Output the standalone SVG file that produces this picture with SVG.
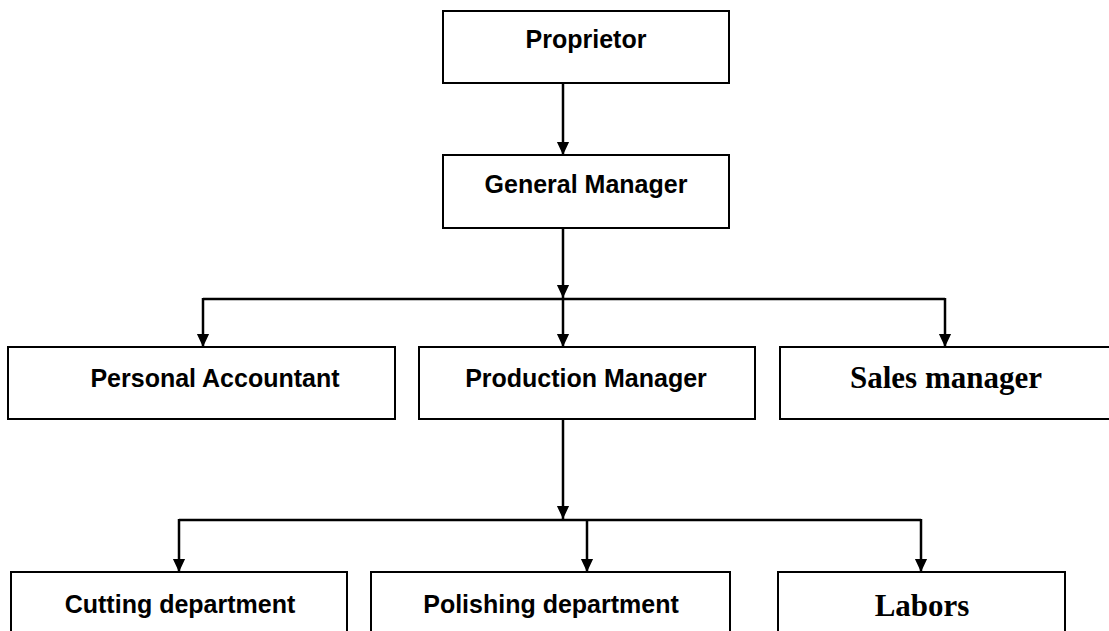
<svg xmlns="http://www.w3.org/2000/svg" width="1109" height="631" viewBox="0 0 1109 631">
<defs>
<style>
.box{fill:#fff;stroke:#000;stroke-width:2}
.t{font-family:"Liberation Sans",Arial,sans-serif;font-weight:bold;font-size:25px;fill:#000;text-anchor:middle}
.s{font-family:"Liberation Serif","Times New Roman",serif;font-weight:bold;font-size:31px;fill:#000;text-anchor:middle}
.c{fill:none;stroke:#000;stroke-width:2.5}
</style>
<marker id="ah" markerUnits="userSpaceOnUse" markerWidth="14" markerHeight="16" refX="7" refY="15" orient="auto" viewBox="0 0 14 16">
<path d="M0,0 L14,0 L7,15 Z" fill="#000" transform="rotate(-90 7 8)"/>
</marker>
<marker id="a" markerUnits="userSpaceOnUse" markerWidth="14" markerHeight="16" refX="15" refY="7" orient="auto" viewBox="0 0 16 14">
<path d="M0,0 L15,7 L0,14 Z" fill="#000"/>
</marker>
</defs>
<rect width="1109" height="631" fill="#fff"/>
<g id="connectors">
<line class="c" x1="563" y1="83" x2="563" y2="155" marker-end="url(#a)"/>
<line class="c" x1="563" y1="228" x2="563" y2="298" marker-end="url(#a)"/>
<line class="c" x1="203" y1="299" x2="945" y2="299"/>
<line class="c" x1="203" y1="298" x2="203" y2="347" marker-end="url(#a)"/>
<line class="c" x1="563" y1="298" x2="563" y2="347" marker-end="url(#a)"/>
<line class="c" x1="945" y1="298" x2="945" y2="347" marker-end="url(#a)"/>
<line class="c" x1="563" y1="419" x2="563" y2="519" marker-end="url(#a)"/>
<line class="c" x1="179" y1="520" x2="921" y2="520"/>
<line class="c" x1="179" y1="519" x2="179" y2="572" marker-end="url(#a)"/>
<line class="c" x1="587" y1="519" x2="587" y2="572" marker-end="url(#a)"/>
<line class="c" x1="921" y1="519" x2="921" y2="572" marker-end="url(#a)"/>
</g>
<g id="proprietor">
<rect class="box" x="443" y="11" width="286" height="72"/>
<text class="t" x="586" y="48">Proprietor</text>
</g>
<g id="general-manager">
<rect class="box" x="443" y="155" width="286" height="73"/>
<text class="t" x="586" y="193">General Manager</text>
</g>
<g id="personal-accountant">
<rect class="box" x="8" y="347" width="387" height="72"/>
<text class="t" x="215" y="387">Personal Accountant</text>
</g>
<g id="production-manager">
<rect class="box" x="419" y="347" width="336" height="72"/>
<text class="t" x="586" y="387">Production Manager</text>
</g>
<g id="sales-manager">
<rect class="box" x="780" y="347" width="340" height="72"/>
<text class="s" x="946" y="388">Sales manager</text>
</g>
<g id="cutting-department">
<rect class="box" x="11" y="572" width="336" height="80"/>
<text class="t" x="180" y="613">Cutting department</text>
</g>
<g id="polishing-department">
<rect class="box" x="371" y="572" width="359" height="80"/>
<text class="t" x="551" y="613">Polishing department</text>
</g>
<g id="labors">
<rect class="box" x="778" y="572" width="287" height="80"/>
<text class="s" x="922" y="616">Labors</text>
</g>
</svg>
